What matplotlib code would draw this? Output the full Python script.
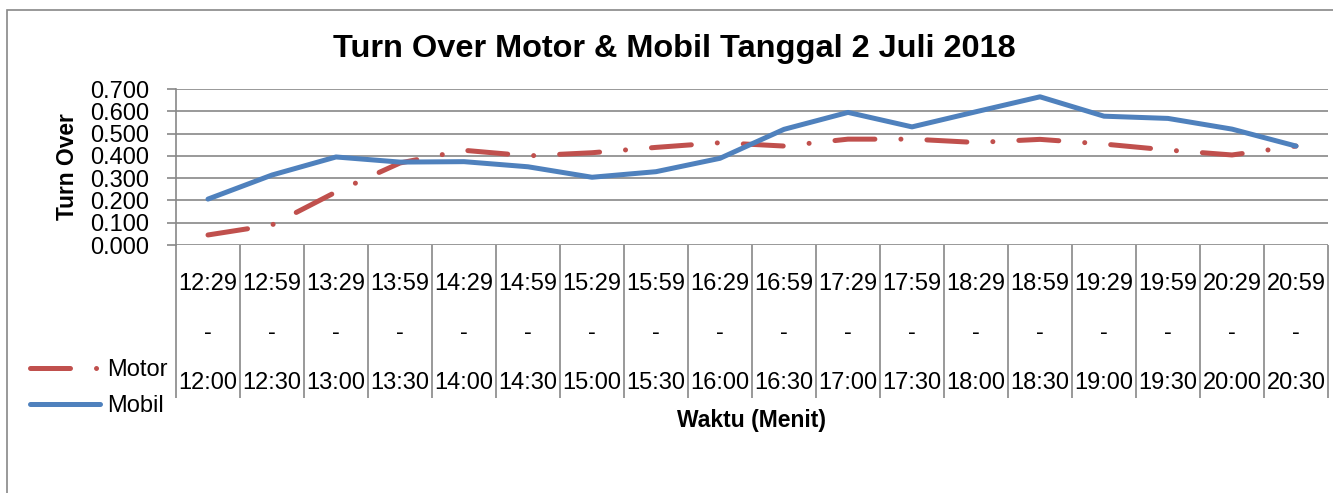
import matplotlib

matplotlib.use("Agg")
import matplotlib.patches as patches
import matplotlib.pyplot as plt
import numpy as np
from matplotlib.ticker import FixedLocator, FormatStrFormatter

W, H = 1333, 493

start_times = ["12:00", "12:30", "13:00", "13:30", "14:00", "14:30", "15:00",
               "15:30", "16:00", "16:30", "17:00", "17:30", "18:00", "18:30",
               "19:00", "19:30", "20:00", "20:30"]
end_times = ["12:29", "12:59", "13:29", "13:59", "14:29", "14:59", "15:29",
             "15:59", "16:29", "16:59", "17:29", "17:59", "18:29", "18:59",
             "19:29", "19:59", "20:29", "20:59"]

motor = [0.045, 0.090, 0.238, 0.368, 0.425, 0.400, 0.414, 0.438, 0.459,
         0.444, 0.475, 0.475, 0.460, 0.474, 0.453, 0.426, 0.404, 0.444]
mobil = [0.206, 0.314, 0.395, 0.372, 0.374, 0.351, 0.304, 0.329, 0.389,
         0.519, 0.595, 0.530, 0.598, 0.665, 0.578, 0.568, 0.520, 0.444]

RED = "#C0504D"
BLUE = "#4F81BD"
GRID = "#888888"
FONT = "Liberation Sans"

plt.rcParams["font.family"] = FONT

figure = plt.figure(figsize=(W / 100, H / 100), dpi=100)
axis = figure.add_axes([176 / W, 1 - 245 / H, 1152 / W, 156 / H])

x = np.arange(len(start_times))
axis.plot(x, motor, color=RED, linewidth=3.6, dashes=(8, 5.2, 0.01, 5.2),
          dash_capstyle="round", label="Motor")
axis.plot(x, mobil, color=BLUE, linewidth=3.6, solid_capstyle="round",
          label="Mobil")

axis.set_xlim(-0.5, len(start_times) - 0.5)
axis.set_ylim(0, 0.7)
axis.set_yticks(np.arange(0, 0.71, 0.1))
axis.yaxis.set_major_formatter(FormatStrFormatter("%.3f"))
axis.grid(True, axis="y", color=GRID, linewidth=1.2)
axis.set_axisbelow(True)

labels = [f"{e}\n-\n{s}" for s, e in zip(start_times, end_times)]
axis.set_xticks(x)
axis.set_xticklabels(labels, linespacing=2.62)
axis.xaxis.set_minor_locator(FixedLocator(np.arange(-0.5, len(start_times), 1.0)))
axis.tick_params(axis="x", which="major", length=0, pad=20, labelsize=17)
axis.tick_params(axis="x", which="minor", length=110, width=1.2, color=GRID,
                 direction="out")
axis.tick_params(axis="y", length=6.5, width=1.2, color=GRID, pad=13,
                 labelsize=17)

for side in ("top", "right", "bottom"):
    axis.spines[side].set_visible(False)
axis.spines["left"].set_color(GRID)
axis.spines["left"].set_linewidth(1.2)

figure.text(674 / W, 1 - 57 / H, "Turn Over Motor & Mobil Tanggal 2 Juli 2018",
            ha="center", va="baseline", fontsize=23.4, fontweight="bold")
figure.text(67 / W, 1 - 167 / H, "Turn Over", rotation=90, ha="center",
            va="center", fontsize=16.4, fontweight="bold")
figure.text(752 / W, 1 - 427 / H, "Waktu (Menit)", ha="center",
            va="baseline", fontsize=16.5, fontweight="bold")

figure.legend(loc="center left", bbox_to_anchor=(30 / W, 1 - 388 / H),
              frameon=False, fontsize=17, handlelength=2.95,
              handletextpad=0.3, labelspacing=0.6, borderpad=0,
              borderaxespad=0)

border = patches.Rectangle((7 / W, -0.05), 1.0, 1 - 10 / H + 0.05,
                           transform=figure.transFigure, facecolor="none",
                           edgecolor=GRID, linewidth=1.2)
figure.add_artist(border)

figure.savefig("out.png", dpi=100)
